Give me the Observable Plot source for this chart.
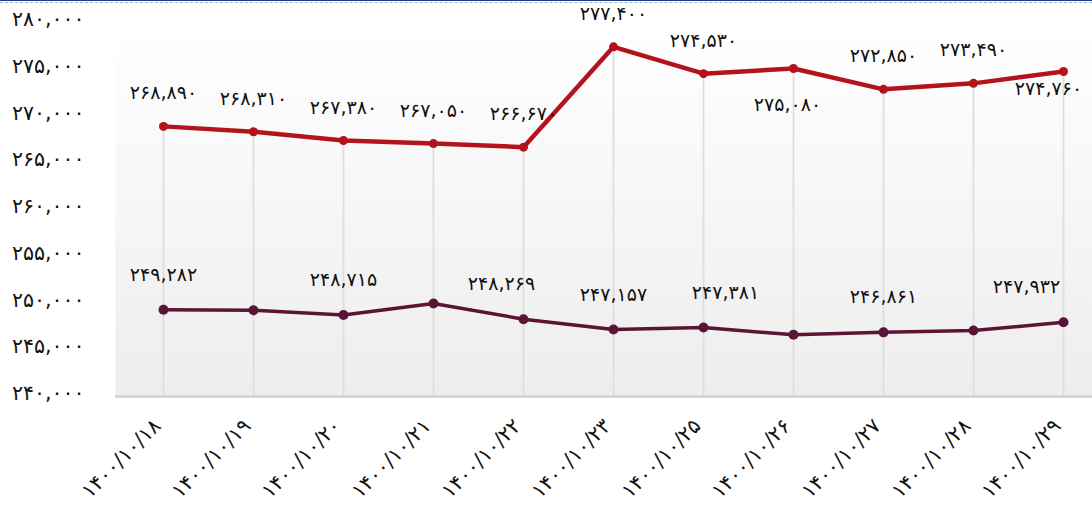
<!DOCTYPE html>
<html>
<head>
<meta charset="utf-8">
<script src="https://cdn.jsdelivr.net/npm/d3@7"></script>
<script src="https://cdn.jsdelivr.net/npm/@observablehq/plot@0.6"></script>
<style>
  html, body { margin: 0; padding: 0; background: #fff; }
  #wrap { position: relative; width: 1092px; height: 507px; overflow: hidden; }
  #topline { position: absolute; left: 0; top: 0; width: 1092px; height: 1px; background: #1e3f78; }
  #topdash { position: absolute; left: 0; top: 2px; width: 1092px; height: 0; border-top: 1px dashed #9fb6d6; }
  svg { display: block; }
</style>
</head>
<body>
<div id="wrap"><div id="chart"></div><div id="topline"></div><div id="topdash"></div></div>
<script>
// ---- data ----
const dates = ["۱۴۰۰/۱۰/۱۸", "۱۴۰۰/۱۰/۱۹", "۱۴۰۰/۱۰/۲۰", "۱۴۰۰/۱۰/۲۱", "۱۴۰۰/۱۰/۲۲", "۱۴۰۰/۱۰/۲۳",
               "۱۴۰۰/۱۰/۲۵", "۱۴۰۰/۱۰/۲۶", "۱۴۰۰/۱۰/۲۷", "۱۴۰۰/۱۰/۲۸", "۱۴۰۰/۱۰/۲۹"];
const redValues = [268890, 268310, 267380, 267050, 266670, 277400, 274530, 275080, 272850, 273490, 274760];
const purpleValues = [249282, 249220, 248715, 249950, 248269, 247157, 247381, 246600, 246861, 247060, 247932];
const yTicks = [240000, 245000, 250000, 255000, 260000, 265000, 270000, 275000, 280000];

// label layout: which purple labels are visible, sideways nudges, and red label side
const purpleLabelShown = [true, false, true, false, true, true, true, false, true, false, true];
const purpleLabelNudge = [0, 0, 0, 0, -22, 0, 22, 0, 0, 0, -37];
const redLabelSide = ["above", "above", "above", "above", "above", "above", "above", "below", "above", "above", "belowLeft"];

const faDigits = "۰۱۲۳۴۵۶۷۸۹";
const toFa = (s) => String(s).replace(/\d/g, (d) => faDigits[+d]);
const fmt = (v) => toFa(d3.format(",")(v));

const red = dates.map((d, i) => ({date: d, value: redValues[i], side: redLabelSide[i]}));
const purple = dates.map((d, i) => ({date: d, value: purpleValues[i], shown: purpleLabelShown[i], nudge: purpleLabelNudge[i]}));

const RED = "#b3141c";
const PURPLE = "#5a1436";
const FONT = "DejaVu Sans";

const purpleLabelMarks = Array.from(d3.group(purple.filter((d) => d.shown), (d) => d.nudge), ([nudge, rows]) =>
  Plot.text(rows, {x: "date", y: "value", text: (d) => fmt(d.value), dx: nudge, dy: -35, fontSize: 19, fill: "#111"})
);

const chart = Plot.plot({
  width: 1092,
  height: 507,
  marginLeft: 115,
  marginRight: 0,
  marginTop: 22,
  marginBottom: 111,
  style: {fontFamily: FONT, fontSize: "19px", color: "#111", background: "transparent"},
  x: {type: "point", domain: dates, padding: 0, insetLeft: 45, insetRight: 27, label: null},
  y: {domain: [240000, 280000], label: null},
  marks: [
    Plot.frame({fill: "url(#bgGrad)", stroke: "none"}),
    Plot.ruleX(red, {x: "date", y1: 240000, y2: "value", stroke: "#dedede", strokeWidth: 1.8}),
    Plot.ruleY([240000], {stroke: "#d6d6d6", strokeWidth: 3}),
    Plot.axisY({ticks: yTicks, tickSize: 0, tickPadding: 31, dy: -3, tickFormat: fmt, fontSize: 20.5, fill: "#111"}),
    Plot.axisX({tickSize: 0, tickRotate: -45, tickPadding: 26, dx: -6, fontSize: 20.5, fill: "#111"}),
    Plot.line(purple, {x: "date", y: "value", stroke: PURPLE, strokeWidth: 3.5}),
    Plot.dot(purple, {x: "date", y: "value", r: 5, fill: PURPLE, stroke: "none"}),
    Plot.line(red, {x: "date", y: "value", stroke: RED, strokeWidth: 4.5}),
    Plot.dot(red, {x: "date", y: "value", r: 4.5, fill: RED, stroke: "none"}),
    ...purpleLabelMarks,
    Plot.text(red.filter((d) => d.side === "above"), {x: "date", y: "value", text: (d) => fmt(d.value), dy: -33, fontSize: 19, fill: "#111"}),
    Plot.text(red.filter((d) => d.side === "below"), {x: "date", y: "value", text: (d) => fmt(d.value), dy: 36, dx: -6, fontSize: 19, fill: "#111"}),
    Plot.text(red.filter((d) => d.side === "belowLeft"), {x: "date", y: "value", text: (d) => fmt(d.value), dy: 17, dx: -15, fontSize: 19, fill: "#111"})
  ]
});

const defs = d3.select(chart).insert("defs", ":first-child");
const grad = defs.append("linearGradient").attr("id", "bgGrad").attr("x1", 0).attr("y1", 0).attr("x2", 0).attr("y2", 1);
grad.append("stop").attr("offset", "0%").attr("stop-color", "#ffffff");
grad.append("stop").attr("offset", "100%").attr("stop-color", "#ededed");

document.getElementById("chart").appendChild(chart);
</script>
</body>
</html>
